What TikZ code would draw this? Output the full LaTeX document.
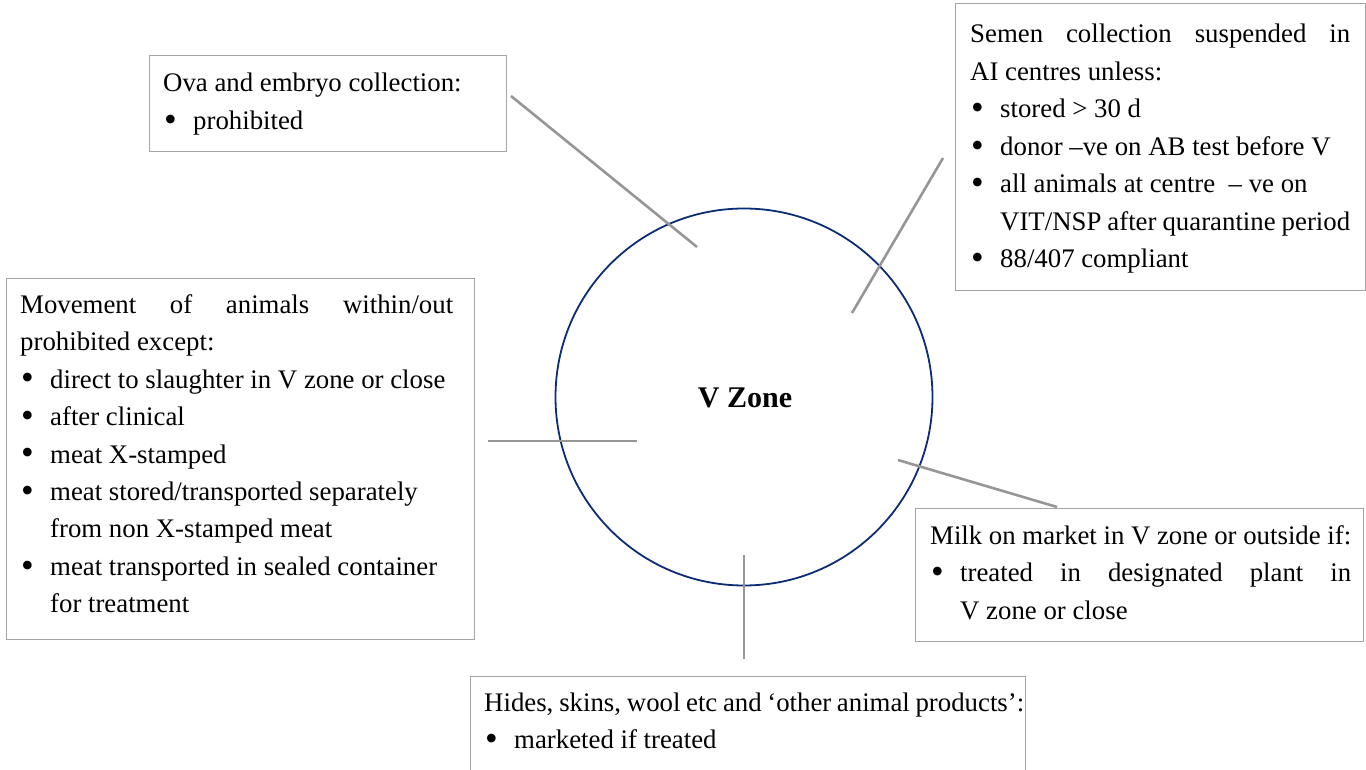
\documentclass[tikz,border=0pt]{standalone}
\usepackage{fontspec}
\setmainfont{Liberation Serif}
\definecolor{boxgray}{RGB}{165,165,165}
\definecolor{linegray}{RGB}{150,150,150}
\definecolor{navy}{RGB}{10,45,115}
\newcommand{\bitem}[1]{\par\hangindent=30pt\hangafter=1\noindent\makebox[30pt][l]{\hspace{1pt}\raisebox{-1.6pt}{\scalebox{1.35}{\textbullet}}}#1}
\begin{document}
\begin{tikzpicture}[x=1pt,y=-1pt,
  boxframe/.style={draw=boxgray,line width=1.3pt,rectangle,inner sep=0pt,anchor=north west},
  txt/.style={inner sep=0pt,anchor=base west,align=justify,font=\fontsize{26.8}{37.5}\selectfont},
  conn/.style={draw=linegray,line width=2.6pt}]
\useasboundingbox (0,0) rectangle (1366,770);
% circle
\node[draw=navy,line width=1.8pt,circle,minimum size=377pt,inner sep=0pt] (zone) at (744,397) {};
\node[font=\fontsize{30}{34}\selectfont\bfseries] (zlabel) at (745,398) {V Zone};
% boxes
\node[boxframe,minimum width=357pt,minimum height=96pt] (ovabox) at (149,55) {};
\node[txt,text width=330pt] (ova) at (163,92) {Ova and embryo collection:\bitem{prohibited}\par};
\node[boxframe,minimum width=410pt,minimum height=287pt] (semenbox) at (955,3) {};
\node[txt,text width=380pt] (semen) at (970,43) {Semen collection suspended in\linebreak AI centres unless:%
\bitem{stored > 30 d}%
\bitem{donor –ve on AB test before V}%
\bitem{all animals at centre \ – ve on\newline VIT/NSP after quarantine period}%
\bitem{88/407 compliant}\par};
\node[boxframe,minimum width=468pt,minimum height=361pt] (movebox) at (6,278) {};
\node[txt,text width=433pt] (move) at (20,313) {Movement of animals within/out\linebreak prohibited except:%
\bitem{direct to slaughter in V zone or close}%
\bitem{after clinical}%
\bitem{meat X-stamped}%
\bitem{meat stored/transported separately\newline from non X-stamped meat}%
\bitem{meat transported in sealed container\newline for treatment}\par};
\node[boxframe,minimum width=448pt,minimum height=133pt] (milkbox) at (915,508) {};
\node[txt,text width=421pt] (milk) at (930,544) {Milk on market in V zone or outside if:%
\bitem{treated in designated plant in\linebreak V zone or close}\par};
\node[boxframe,minimum width=555pt,minimum height=120pt] (hidesbox) at (470,676) {};
\node[txt,text width=540pt] (hides) at (484,711) {Hides, skins, wool etc and ‘other animal products’:%
\bitem{marketed if treated}\par};
% connector ends
\coordinate (o1) at (511,96); \coordinate (o2) at (697,247);
\coordinate (s1) at (943,158); \coordinate (s2) at (852,313);
\coordinate (m1) at (488,441); \coordinate (m2) at (637,441);
\coordinate (k1) at (898,460); \coordinate (k2) at (1057,507);
\coordinate (h1) at (744,555); \coordinate (h2) at (744,659);
\draw[conn] (o1) -- (o2);
\draw[conn] (s1) -- (s2);
\draw[conn] (m1) -- (m2);
\draw[conn] (k1) -- (k2);
\draw[conn] (h1) -- (h2);
\end{tikzpicture}
\end{document}
